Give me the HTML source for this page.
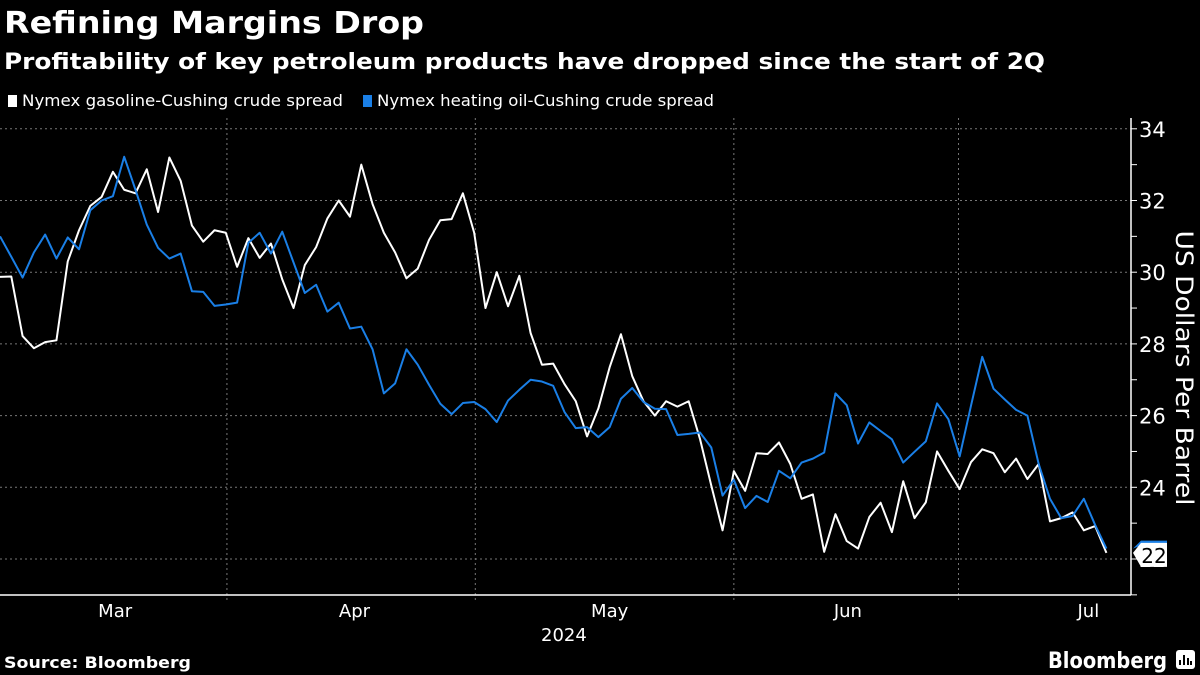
<!DOCTYPE html>
<html><head><meta charset="utf-8"><style>
body{margin:0;background:#000;width:1200px;height:675px;overflow:hidden;font-family:"DejaVu Sans","Liberation Sans",sans-serif;color:#fff}
svg text{font-family:"DejaVu Sans","Liberation Sans",sans-serif}
</style></head><body>
<svg id="c" width="1200" height="675" viewBox="0 0 1200 675" style="position:absolute;left:0;top:0">
<text x="4" y="33" font-size="30" font-weight="bold" fill="#fff" textLength="420" lengthAdjust="spacingAndGlyphs">Refining Margins Drop</text>
<text x="4" y="69" font-size="22" font-weight="bold" fill="#fff" textLength="1041" lengthAdjust="spacingAndGlyphs">Profitability of key petroleum products have dropped since the start of 2Q</text>
<g>
<rect x="8" y="95" width="9" height="12" fill="#fff"/>
<text x="22" y="106" font-size="16" fill="#fff" textLength="321" lengthAdjust="spacingAndGlyphs">Nymex gasoline-Cushing crude spread</text>
<rect x="363" y="95" width="9" height="12" fill="#1a7fe6"/>
<text x="377" y="106" font-size="16" fill="#fff" textLength="337" lengthAdjust="spacingAndGlyphs">Nymex heating oil-Cushing crude spread</text>
</g>
<g id="grid"></g>
<g id="axes"></g>
<g id="series"></g>
<text transform="translate(1176,368) rotate(90)" text-anchor="middle" font-size="24" fill="#fff" textLength="275" lengthAdjust="spacingAndGlyphs">US Dollars Per Barrel</text>
<text x="541" y="641" font-size="18" fill="#fff">2024</text>
<text x="4" y="668" font-size="16" font-weight="bold" fill="#fff" textLength="187" lengthAdjust="spacingAndGlyphs">Source: Bloomberg</text>
<text x="1048" y="668" font-size="22" font-weight="bold" fill="#fff" textLength="119" lengthAdjust="spacingAndGlyphs">Bloomberg</text>
<g>
<rect x="1176" y="650" width="19" height="19" rx="3" fill="#fff"/>
<path d="M1180,665 L1180,660 M1184,665 L1184,655 M1188,665 L1188,658 M1191,665 L1191,661" stroke="#000" stroke-width="2"/>
</g>
</svg>
<script>
const gasoline=[29.87,29.88,28.22,27.88,28.05,28.1,30.3,31.17,31.85,32.1,32.8,32.3,32.2,32.87,31.68,33.2,32.55,31.3,30.85,31.17,31.1,30.15,30.95,30.4,30.8,29.8,29.0,30.2,30.7,31.5,32.0,31.55,33.0,31.9,31.1,30.55,
29.83,30.1,30.9,31.45,31.48,32.2,31.1,29.0,30.0,29.05,29.9,28.3,27.42,27.45,26.88,26.4,25.42,26.2,27.35,28.27,27.1,26.4,26.0,26.4,26.25,26.4,25.35,24.05,22.8,24.45,23.9,24.95,24.93,25.25,
24.65,23.68,23.8,22.2,23.25,22.5,22.29,23.17,23.57,22.75,24.17,23.14,23.58,25.0,24.46,23.95,24.7,25.06,24.95,24.42,24.8,24.23,24.65,23.05,23.14,23.3,22.8,22.92,22.17];
const heatingOil=[31.0,30.43,29.85,30.55,31.05,30.38,30.97,30.64,31.73,32.0,32.12,33.22,32.3,31.33,30.68,30.38,30.52,29.47,29.45,29.06,29.1,29.15,30.82,31.1,30.52,31.13,30.27,29.42,29.65,28.9,29.15,28.43,28.48,27.85,26.62,26.9,
27.85,27.42,26.86,26.33,26.04,26.35,26.38,26.18,25.82,26.42,26.72,27.0,26.95,26.83,26.1,25.65,25.68,25.4,25.68,26.47,26.77,26.38,26.19,26.18,25.46,25.49,25.53,25.11,23.77,24.21,23.42,23.76,23.59,24.46,
24.25,24.69,24.8,24.97,26.62,26.29,25.22,25.81,25.57,25.34,24.69,24.99,25.28,26.34,25.9,24.86,26.27,27.64,26.75,26.45,26.16,26.0,24.65,23.68,23.14,23.2,23.68,22.95,22.29];
const yTicks=[22,24,26,28,30,32,34];
const monthLabels=["Mar","Apr","May","Jun","Jul"];
const monthLabelIdx=[10.2,31.4,54.0,75.1,96.4];
const monthBoundaryIdx=[20.1,42.1,65.0,84.9];

const NS="http://www.w3.org/2000/svg";
const X0=0,XS=11.29,AX=1131,BOT=595,TOP=118;
const xs=i=>X0+i*XS;
const ys=v=>559-(v-22)*35.85;
function mk(t,a,p){const e=document.createElementNS(NS,t);for(const k in a)e.setAttribute(k,a[k]);p.appendChild(e);return e;}
const grid=document.getElementById('grid'),axes=document.getElementById('axes'),ser=document.getElementById('series');
yTicks.forEach(v=>{
 const l=mk('line',{x1:0,x2:AX,y1:ys(v),y2:ys(v),stroke:'#777','stroke-width':1,'stroke-dasharray':'2,3'},grid);
 
 
 const t=mk('text',{x:AX+8,y:ys(v)+8,'font-size':21,fill:'#fff'},axes);
 t.textContent=v;
 
 
});
for(let v=21;v<=34;v++){
 const tk=mk('line',{x1:AX,x2:AX+6,y1:ys(v),y2:ys(v),stroke:'#fff','stroke-width':1},axes);
 
 
}
monthBoundaryIdx.forEach(i=>{
 const l=mk('line',{x1:xs(i),x2:xs(i),y1:TOP,y2:BOT+6,stroke:'#777','stroke-width':1,'stroke-dasharray':'2,3'},grid);
 
 
});
monthLabels.forEach((m,k)=>{
 const t=mk('text',{x:xs(monthLabelIdx[k]),y:617,'font-size':18,fill:'#fff','text-anchor':'middle'},axes);
 t.textContent=m;
 
 
});
const ya=mk('line',{x1:AX,x2:AX,y1:TOP,y2:BOT,stroke:'#fff','stroke-width':1.5},axes);


const xa=mk('line',{x1:0,x2:AX,y1:BOT,y2:BOT,stroke:'#fff','stroke-width':1.5},axes);


function line(d,c,name){
 const p=mk('polyline',{points:d.map((v,i)=>xs(i)+','+ys(v)).join(' '),fill:'none',stroke:c,'stroke-width':2,'stroke-linejoin':'round'},ser);
 
 
}
line(gasoline,'#ffffff','gasoline-line');
line(heatingOil,'#1a7fe6','heating-oil-line');
const hv=heatingOil[heatingOil.length-1],gv=gasoline[gasoline.length-1];
const bf=mk('path',{d:`M${AX+2},${ys(hv)} L${AX+10},${ys(hv)-8} L${AX+36},${ys(hv)-8} L${AX+36},${ys(hv)-4} L${AX+12},${ys(hv)-4} Z`,fill:'#1a7fe6'},ser);


const by=ys(gv);
const bb=mk('path',{d:`M${AX+2},${by} L${AX+10},${by-10} L${AX+36},${by-10} L${AX+36},${by+14} L${AX+10},${by+14} Z`,fill:'#fff'},ser);


const bt=mk('text',{x:AX+23,y:by+10,'font-size':20,fill:'#000','text-anchor':'middle'},ser);
bt.textContent=Math.round(gv);


</script>
</body></html>
